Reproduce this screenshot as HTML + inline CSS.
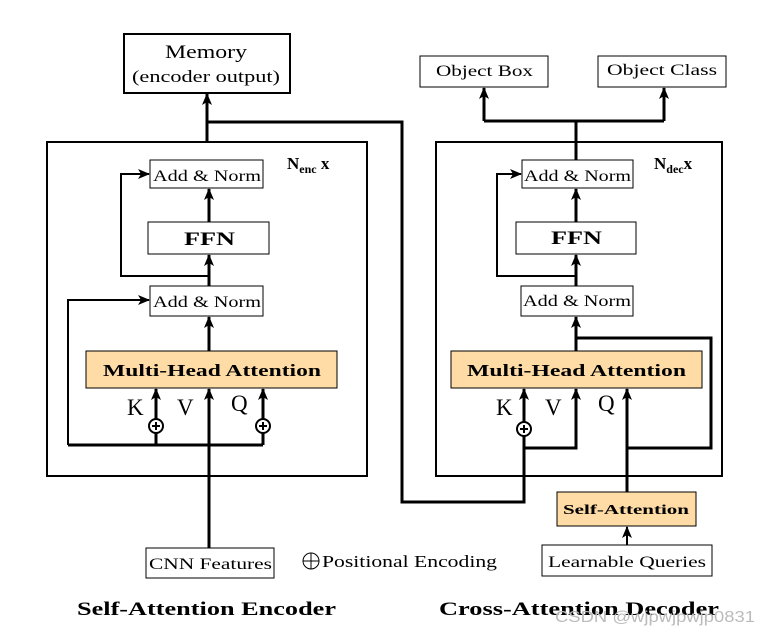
<!DOCTYPE html>
<html><head><meta charset="utf-8"><style>
html,body{margin:0;padding:0;background:#fff;}
svg{display:block;}
text{font-family:"Liberation Serif",serif;fill:#000;}
</style></head><body>
<svg width="767" height="638" viewBox="0 0 767 638" xmlns="http://www.w3.org/2000/svg">
<defs>
<marker id="b" markerWidth="12" markerHeight="12" refX="11" refY="5" orient="auto" markerUnits="userSpaceOnUse" viewBox="0 0 12 10">
<path d="M0,0 L12,5 L0,10 L3,5 Z" fill="#000"/></marker>
</defs>
<g fill="none" stroke="#000">
<rect x="47" y="142" width="320" height="334" stroke-width="2"/>
<rect x="436" y="142" width="286" height="334" stroke-width="2"/>
<rect x="124" y="34" width="166" height="59" stroke-width="2"/>
<rect x="420" y="56" width="128" height="31" stroke-width="1"/>
<rect x="598" y="56" width="128" height="31" stroke-width="1"/>
<rect x="150" y="160" width="113" height="28" stroke-width="1"/>
<rect x="148" y="222" width="121" height="32" stroke-width="1"/>
<rect x="150" y="286" width="113" height="30" stroke-width="1"/>
<rect x="86" y="351" width="251" height="37" stroke-width="1" fill="#ffdca6"/>
<rect x="522" y="160" width="111" height="28" stroke-width="1"/>
<rect x="516" y="222" width="120" height="32" stroke-width="1"/>
<rect x="521" y="286" width="112" height="30" stroke-width="1"/>
<rect x="451" y="351" width="251" height="37" stroke-width="1" fill="#ffdca6"/>
<rect x="557" y="492" width="139" height="34" stroke-width="1" fill="#ffdca6"/>
<rect x="146" y="548" width="128" height="30" stroke-width="1"/>
<rect x="542" y="545" width="170" height="31" stroke-width="1"/>
</g>
<g fill="none" stroke="#000" stroke-width="3">
<path d="M207,142 V94" marker-end="url(#b)"/>
<path d="M209,222 V189" marker-end="url(#b)"/>
<path d="M209,286 V255" marker-end="url(#b)"/>
<path d="M209,351 V317" marker-end="url(#b)"/>
<path d="M209,548 V389" marker-end="url(#b)"/>
<path d="M156,445 V389" marker-end="url(#b)"/>
<path d="M263,445 V389" marker-end="url(#b)"/>
<path d="M68,445 H263"/>
<path d="M68,445 V300 H149" stroke-width="2" marker-end="url(#b)"/>
<path d="M209,276 H121 V174 H149" stroke-width="2" marker-end="url(#b)"/>
<path d="M207,122 H402 V502 H524 V389" marker-end="url(#b)"/>
<path d="M524,448 H576 V389" marker-end="url(#b)"/>
<path d="M627,492 V389" marker-end="url(#b)"/>
<path d="M627,448 H711 V338 H576"/>
<path d="M576,351 V317" marker-end="url(#b)"/>
<path d="M576,286 V255" marker-end="url(#b)"/>
<path d="M576,222 V189" marker-end="url(#b)"/>
<path d="M576,276 H497 V174 H521" stroke-width="2" marker-end="url(#b)"/>
<path d="M576,160 V121"/>
<path d="M484,121 H664"/>
<path d="M484,121 V88" marker-end="url(#b)"/>
<path d="M664,121 V88" marker-end="url(#b)"/>
<path d="M627,545 V527" stroke-width="2" marker-end="url(#b)"/>
</g>
<g stroke="#000" stroke-width="2" fill="#fff">
<circle cx="156" cy="426" r="7"/><circle cx="263" cy="426" r="7"/><circle cx="524" cy="429" r="7"/>
</g>
<g stroke="#000" stroke-width="2">
<path d="M152,426 H160 M156,422 V430"/><path d="M259,426 H267 M263,422 V430"/><path d="M520,429 H528 M524,425 V433"/>
</g>
<circle cx="311" cy="561" r="8" fill="none" stroke="#000" stroke-width="1"/>
<path d="M303,561 H319 M311,553 V569" stroke="#000" stroke-width="1"/>
<g font-size="19">
<text x="165" y="58" textLength="82" lengthAdjust="spacingAndGlyphs">Memory</text>
<text x="132" y="82" font-size="17" textLength="148" lengthAdjust="spacingAndGlyphs">(encoder output)</text>
</g>
<g font-size="16">
<text x="436" y="76" textLength="97" lengthAdjust="spacingAndGlyphs">Object Box</text>
<text x="607" y="75" textLength="110" lengthAdjust="spacingAndGlyphs">Object Class</text>
<text x="153" y="181" textLength="108" lengthAdjust="spacingAndGlyphs">Add &amp; Norm</text>
<text x="153" y="307" textLength="108" lengthAdjust="spacingAndGlyphs">Add &amp; Norm</text>
<text x="524" y="181" textLength="107" lengthAdjust="spacingAndGlyphs">Add &amp; Norm</text>
<text x="523" y="306" textLength="108" lengthAdjust="spacingAndGlyphs">Add &amp; Norm</text>
<text x="149" y="569" textLength="123" lengthAdjust="spacingAndGlyphs">CNN Features</text>
<text x="548" y="567" textLength="158" lengthAdjust="spacingAndGlyphs">Learnable Queries</text>
</g>
<text x="322" y="567" font-size="17" textLength="175" lengthAdjust="spacingAndGlyphs">Positional Encoding</text>
<g font-weight="bold">
<text x="184" y="245" font-size="19" textLength="51" lengthAdjust="spacingAndGlyphs">FFN</text>
<text x="551" y="244" font-size="19" textLength="51" lengthAdjust="spacingAndGlyphs">FFN</text>
<text x="103" y="376" font-size="17" textLength="218" lengthAdjust="spacingAndGlyphs">Multi-Head Attention</text>
<text x="467" y="376" font-size="17" textLength="219" lengthAdjust="spacingAndGlyphs">Multi-Head Attention</text>
<text x="563" y="514" font-size="14" textLength="126" lengthAdjust="spacingAndGlyphs">Self-Attention</text>
<text x="77" y="615" font-size="19" textLength="259" lengthAdjust="spacingAndGlyphs">Self-Attention Encoder</text>
<text x="439" y="615" font-size="19" textLength="280" lengthAdjust="spacingAndGlyphs">Cross-Attention Decoder</text>
</g>
<text x="287" y="169" font-size="17" font-weight="bold">N<tspan font-size="12" dy="4">enc</tspan><tspan dy="-4"> x</tspan></text>
<text x="654" y="169" font-size="17" font-weight="bold">N<tspan font-size="12" dy="4">dec</tspan><tspan dy="-4">x</tspan></text>
<g font-size="23">
<text x="127" y="415">K</text><text x="177" y="415">V</text><text x="231" y="411">Q</text>
<text x="496" y="415">K</text><text x="545" y="415">V</text><text x="598" y="411">Q</text>
</g>
<text x="555" y="622" font-size="16" textLength="200" lengthAdjust="spacingAndGlyphs" style="fill:#bbb;font-family:'Liberation Sans',sans-serif">CSDN @wjpwjpwjp0831</text>
</svg>
</body></html>
